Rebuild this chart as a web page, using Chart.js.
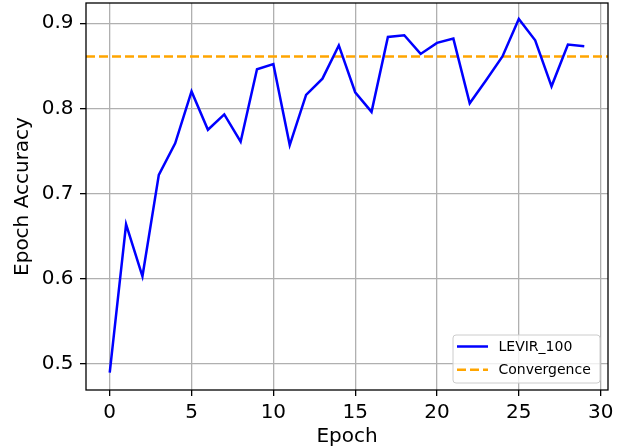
<!DOCTYPE html>
<html>
<head>
<meta charset="utf-8">
<script src="https://cdn.jsdelivr.net/npm/chart.js@4.4.1/dist/chart.umd.min.js"></script>
<style>
  html, body { margin: 0; padding: 0; background: #fff; }
  #wrap { width: 625px; height: 446px; }
</style>
</head>
<body>
<div id="wrap"><canvas id="accChart" width="625" height="446"></canvas></div>
<script>
// values
let epochs = [0, 1, 2, 3, 4, 5, 6, 7, 8, 9, 10, 11, 12, 13, 14, 15, 16, 17, 18, 19, 20, 21, 22, 23, 24, 25, 26, 27, 28, 29];
let accuracy = [0.490, 0.664, 0.603, 0.722, 0.759, 0.820, 0.775, 0.793, 0.761, 0.846,
    0.852, 0.757, 0.816, 0.835, 0.874, 0.819, 0.796, 0.884, 0.886, 0.864,
    0.877, 0.882, 0.806, 0.833, 0.861, 0.905, 0.880, 0.826, 0.875, 0.873];
let convergence = 0.861;
let xTicks = [0, 5, 10, 15, 20, 25, 30];
let yTicks = [0.5, 0.6, 0.7, 0.8, 0.9];
let xRange = [-1.45, 30.45];
let yRange = [0.4695, 0.9238];

let font = 'DejaVu Sans';

// matplotlib style frame round the plot area
let framePlugin = {
    id: 'frame',
    afterDatasetsDraw(chart) {
        let a = chart.chartArea;
        let ctx = chart.ctx;
        ctx.save();
        ctx.strokeStyle = '#000';
        ctx.lineWidth = 1.3;
        ctx.strokeRect(a.left, a.top, a.right - a.left, a.bottom - a.top);
        ctx.restore();
    }
};

// legend inside the axes, lower right
let innerLegend = {
    id: 'innerLegend',
    afterDraw(chart) {
        let a = chart.chartArea;
        let ctx = chart.ctx;
        let w = 147, h = 48;
        let x = a.right - 8 - w, y = a.bottom - 7 - h;
        ctx.save();
        ctx.beginPath();
        ctx.roundRect(x, y, w, h, 3);
        ctx.fillStyle = 'rgba(255,255,255,0.8)';
        ctx.fill();
        ctx.strokeStyle = '#cccccc';
        ctx.lineWidth = 1;
        ctx.stroke();
        ctx.font = '14px "' + font + '"';
        ctx.textBaseline = 'middle';
        ctx.textAlign = 'left';
        chart.data.datasets.forEach(function (ds, i) {
            let rowY = y + 11.5 + i * 23.3;
            ctx.beginPath();
            ctx.setLineDash(ds.borderDash || []);
            ctx.strokeStyle = ds.borderColor;
            ctx.lineWidth = ds.borderWidth;
            ctx.moveTo(x + 4, rowY);
            ctx.lineTo(x + 35, rowY);
            ctx.stroke();
            ctx.setLineDash([]);
            ctx.fillStyle = '#000';
            ctx.fillText(ds.label, x + 45.5, rowY + 1);
        });
        ctx.restore();
    }
};

let ctx = document.getElementById('accChart');
new Chart(ctx, {
    type: 'line',
    data: {
        datasets: [{
            label: 'LEVIR_100',
            data: epochs.map((e, i) => ({x: e, y: accuracy[i]})),
            borderColor: '#0000ff',
            borderWidth: 2.5,
            pointRadius: 0,
            tension: 0,
            fill: false
        }, {
            label: 'Convergence',
            data: [{x: xRange[0], y: convergence}, {x: xRange[1], y: convergence}],
            borderColor: '#ffa500',
            borderWidth: 2.5,
            borderDash: [9, 4],
            pointRadius: 0,
            tension: 0,
            fill: false
        }]
    },
    options: {
        responsive: false,
        animation: false,
        layout: {padding: {top: 3, right: 17, left: 0, bottom: 0}},
        plugins: {
            legend: {display: false},
            tooltip: {enabled: false}
        },
        scales: {
            x: {
                type: 'linear',
                min: xRange[0],
                max: xRange[1],
                afterBuildTicks: function (scale) {
                    scale.ticks = xTicks.map(v => ({value: v}));
                },
                afterFit: function (scale) {
                    scale.height = 56;
                    scale.paddingLeft = 0;
                    scale.paddingRight = 0;
                },
                border: {display: false},
                grid: {color: '#b0b0b0', lineWidth: 1.3, tickLength: 6, tickColor: '#000', tickWidth: 1.3},
                ticks: {
                    color: '#000',
                    padding: 5,
                    maxRotation: 0,
                    font: {family: font, size: 20},
                    callback: v => String(v)
                },
                title: {
                    display: true,
                    text: 'Epoch',
                    color: '#000',
                    font: {family: font, size: 20},
                    padding: {top: 0, bottom: -3}
                }
            },
            y: {
                min: yRange[0],
                max: yRange[1],
                afterBuildTicks: function (scale) {
                    scale.ticks = yTicks.map(v => ({value: v}));
                },
                afterFit: function (scale) {
                    scale.width = 86;
                    scale.paddingTop = 0;
                    scale.paddingBottom = 0;
                },
                border: {display: false},
                grid: {color: '#b0b0b0', lineWidth: 1.3, tickLength: 6, tickColor: '#000', tickWidth: 1.3},
                ticks: {
                    color: '#000',
                    padding: 6.5,
                    font: {family: font, size: 20},
                    callback: v => v.toFixed(1)
                },
                title: {
                    display: true,
                    text: 'Epoch Accuracy',
                    color: '#000',
                    font: {family: font, size: 20},
                    padding: {top: 11, bottom: 0}
                }
            }
        }
    },
    plugins: [framePlugin, innerLegend]
});
</script>
</body>
</html>
